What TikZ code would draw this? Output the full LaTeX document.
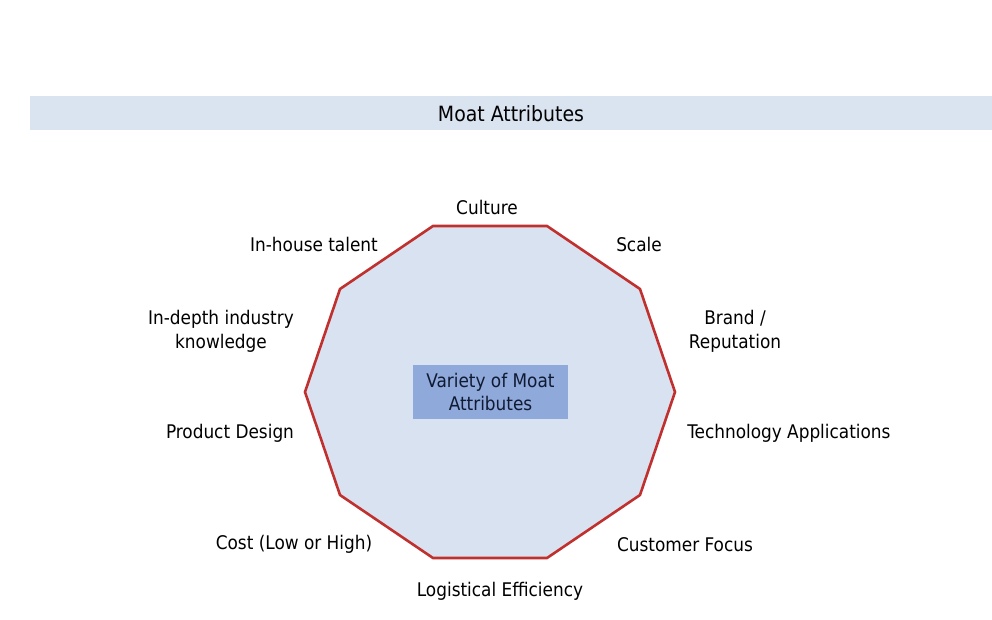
\documentclass[tikz,border=0pt]{standalone}
\usepackage{fontspec}
\setmainfont{DejaVu Sans Condensed}
\usetikzlibrary{calc}
\definecolor{band}{HTML}{DAE3F0}
\definecolor{octfill}{HTML}{D9E2F0}
\definecolor{octline}{HTML}{C0302E}
\definecolor{boxfill}{HTML}{8EA9DA}
\definecolor{boxtext}{HTML}{111A33}
\tikzset{
  lbl/.style={font=\fontsize{18.8}{24}\selectfont, text=black, align=center, inner sep=0pt},
}
\begin{document}
\begin{tikzpicture}[x=1pt,y=-1pt]
\useasboundingbox (0,0) rectangle (992,620);
\fill[white] (0,0) rectangle (992,620);
% header band
\fill[band] (30,96) rectangle (992,130);
\node[lbl, font=\fontsize{21}{25}\selectfont] (title) at (511,114) {Moat Attributes};
% decagon
\coordinate (v1) at (433,226);
\coordinate (v2) at (547,226);
\coordinate (v3) at (640,289);
\coordinate (v4) at (675,392);
\coordinate (v5) at (640,495);
\coordinate (v6) at (547,558);
\coordinate (v7) at (433,558);
\coordinate (v8) at (340,495);
\coordinate (v9) at (305,392);
\coordinate (v10) at (340,289);
\filldraw[fill=octfill, draw=octline, line width=2.6pt, line join=miter]
  (v1) -- (v2) -- (v3) -- (v4) -- (v5) -- (v6) -- (v7) -- (v8) -- (v9) -- (v10) -- cycle;
% center box
\node[fill=boxfill, minimum width=155pt, minimum height=54pt, inner sep=0pt,
      text=boxtext, align=center, font=\fontsize{18.8}{23}\selectfont] (center) at (490.5,392) {\raisebox{-1pt}{Variety of Moat}\\\raisebox{-1pt}{Attributes}};
% labels
\node[lbl] (culture) at (487,207) {Culture};
\node[lbl] (scale) at (639,244.5) {Scale};
\node[lbl] (talent) at (314,244.5) {In-house talent};
\node[lbl] (brand) at (735,331.5) {Brand /\\Reputation};
\node[lbl] (indepth) at (221,331.5) {In-depth industry\\knowledge};
\node[lbl] (product) at (230,433.5) {Product Design};
\node[lbl] (tech) at (789,433.5) {Technology Applications};
\node[lbl] (cost) at (294,544.5) {Cost (Low or High)};
\node[lbl] (customer) at (685,544.5) {Customer Focus};
\node[lbl] (logistic) at (500,591.5) {Logistical Efficiency};
\end{tikzpicture}
\end{document}
